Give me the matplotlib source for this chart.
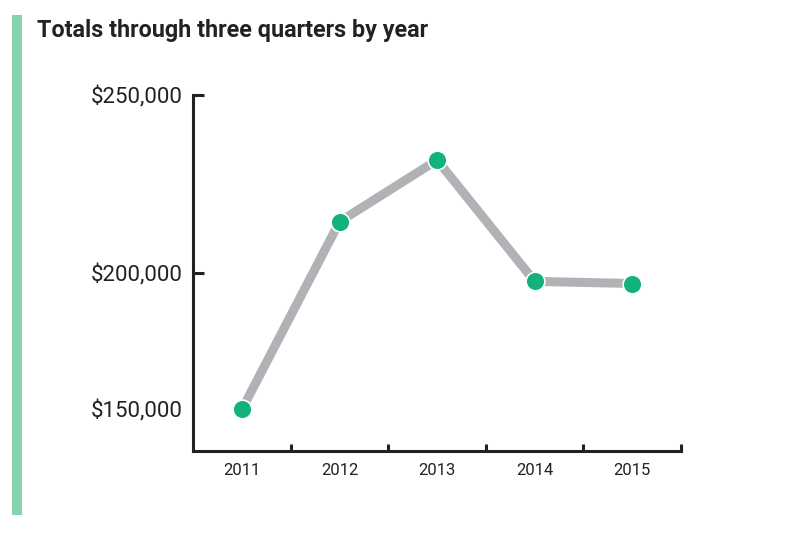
import matplotlib
matplotlib.use('Agg')
import matplotlib.pyplot as plt
from matplotlib.patches import Rectangle

years = ['2011', '2012', '2013', '2014', '2015']
totals = [161700, 214400, 231700, 197600, 197000]
ytick_values = [200000, 250000]
ytick_labels = ['$200,000', '$250,000']
title = 'Totals through three quarters by year'

plt.rcParams['font.family'] = ['Roboto', 'DejaVu Sans']

fig = plt.figure(figsize=(8.1, 5.4), dpi=100)
ax = fig.add_axes([0.2387, 0.1654, 0.6020, 0.6587])

x = list(range(len(years)))
ax.plot(x, totals, color='#b1b2b5', lw=6.5, solid_capstyle='butt', zorder=2)
ax.plot(x, totals, 'o', ms=13.5, color='#12b27f', mec='white', mew=1.2, zorder=3)

ax.set_xlim(-0.5, len(years) - 0.5)
ax.set_ylim(150000, 250000)

# year labels centred, tick marks on the boundaries
ax.set_xticks(x)
ax.set_xticklabels(years, fontsize=12, color='#222222')
ax.tick_params(axis='x', which='major', length=0, pad=9)
ax.set_xticks([i + 0.5 for i in x], minor=True)
ax.tick_params(axis='x', which='minor', direction='in', length=5, width=2.2,
               color='#222222')

# the $150,000 label sits beside the first point in the original
ax.set_yticks([totals[0]] + ytick_values)
ax.set_yticklabels(['$150,000'] + ytick_labels, fontsize=16, color='#222222')
ax.tick_params(axis='y', direction='in', length=8, width=2.2, color='#222222',
               pad=8)
ax.yaxis.get_major_ticks()[0].tick1line.set_visible(False)

for s in ['top', 'right']:
    ax.spines[s].set_visible(False)
for s in ['left', 'bottom']:
    ax.spines[s].set_linewidth(2.2)
    ax.spines[s].set_color('#222222')
    ax.spines[s].set_capstyle('projecting')

fig.patches.append(Rectangle((12 / 810, 1 - 515 / 540), 10 / 810, 500 / 540,
                             transform=fig.transFigure, color='#86d1ae',
                             lw=0))
fig.text(37 / 810, 1 - 31 / 540, title, fontsize=16.8, fontweight='bold',
         color='#222222', va='center', ha='left')

fig.savefig('out.png', dpi=100)
